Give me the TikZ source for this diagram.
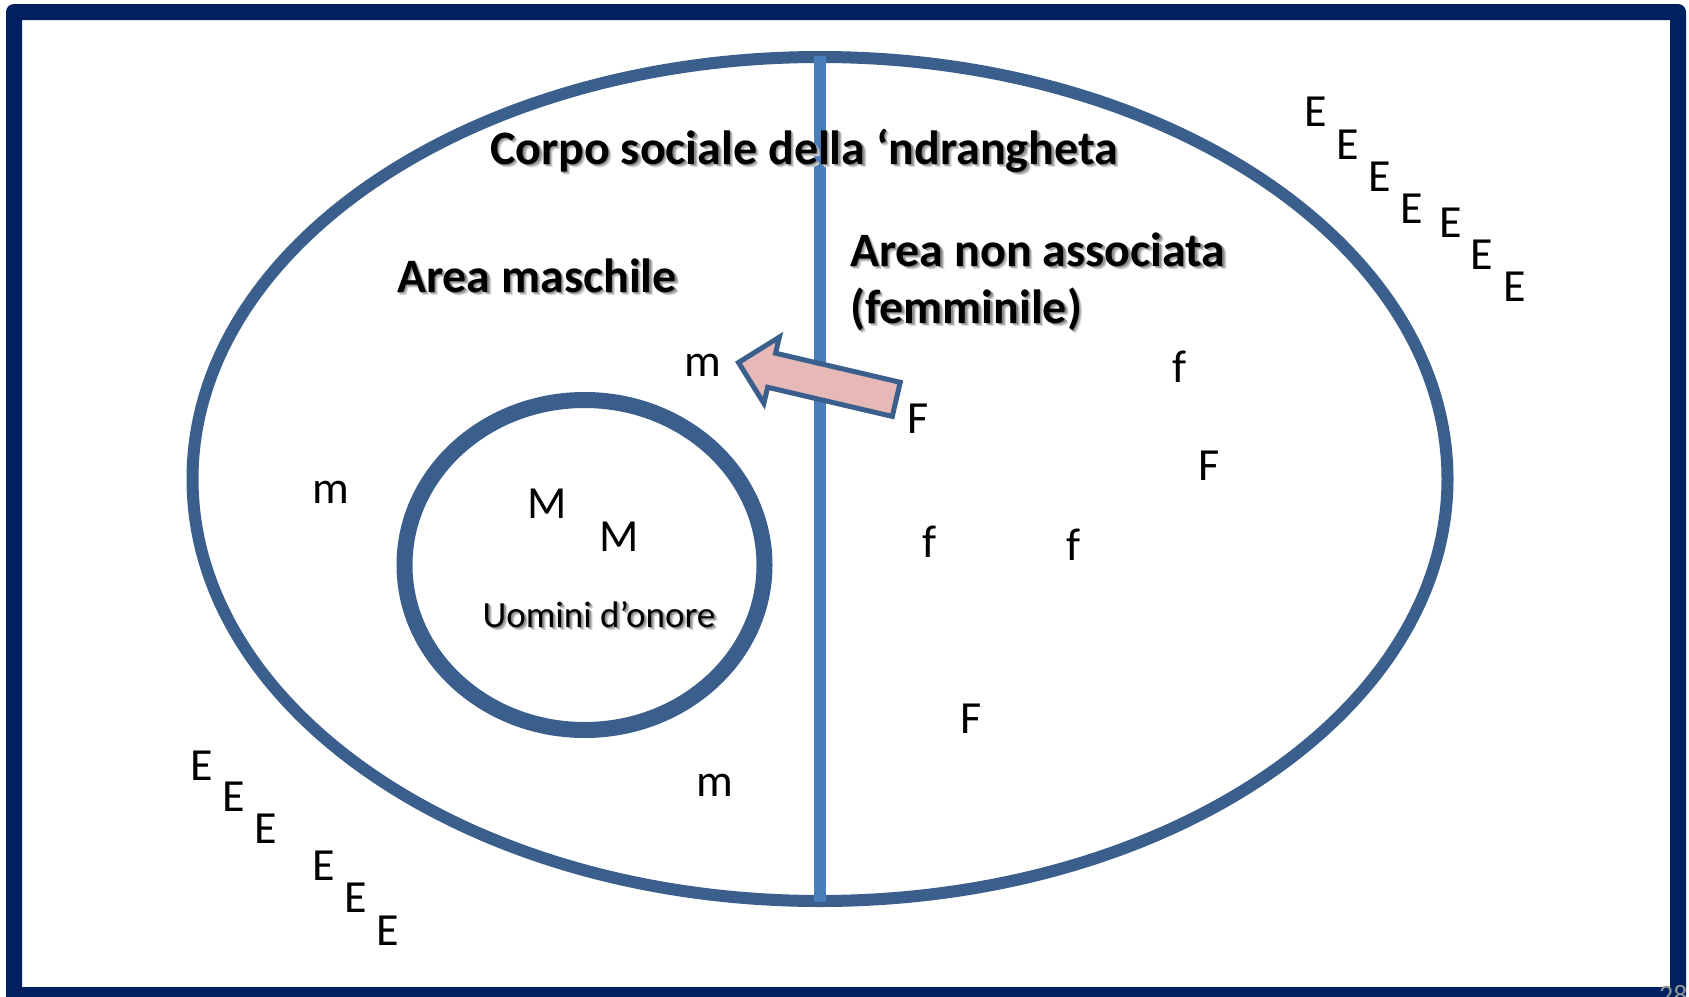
\documentclass[tikz,border=0pt]{standalone}
\usepackage{fontspec}
\setmainfont{Carlito}
\definecolor{framenavy}{HTML}{002060}
\definecolor{ringblue}{HTML}{3A5F8C}
\definecolor{axisblue}{HTML}{4A7EBB}
\definecolor{arrowpink}{HTML}{E6B9B8}
\newcommand\myshadow[1]{\makebox[0pt][l]{\hspace{3.5pt}\raisebox{-3.5pt}{\textcolor{black!15}{#1}}}\makebox[0pt][l]{\hspace{2.5pt}\raisebox{-2.5pt}{\textcolor{black!30}{#1}}}\makebox[0pt][l]{\hspace{1.5pt}\raisebox{-1.5pt}{\textcolor{black!45}{#1}}}#1}
\begin{document}
\begin{tikzpicture}[x=1pt,y=-1pt,
  letter/.style={inner sep=0pt, anchor=base, font=\fontsize{46}{55}\selectfont},
  heading/.style={inner sep=0pt, font=\bfseries\fontsize{48}{57}\selectfont},
  ring/.style={draw=ringblue},
  arrowshape/.style={draw=ringblue, fill=arrowpink, line width=5pt, line join=miter}
]
\useasboundingbox (0,0) rectangle (1689,996);
\clip (0,0) rectangle (1689,996);
\fill[white] (0,0) rectangle (1689,996);
% frame
\fill[framenavy, even odd rule] [rounded corners=8pt] (6,4) rectangle (1686,1004) [sharp corners] (22,20) rectangle (1670,987);
% outer ellipse
\draw[ring, line width=12pt] (820,479) ellipse [x radius=627.5pt, y radius=422pt];
% vertical divider
\coordinate (axtop) at (819.5,56);
\coordinate (axbot) at (819.5,902);
\draw[axisblue, line width=12pt] (axtop) -- (axbot);
% inner circle
\draw[ring, line width=16pt] (584.5,565) ellipse [x radius=180pt, y radius=165pt];
% arrow
\begin{scope}[shift={(738.5,362.5)}, rotate=-13.15]
\draw[arrowshape] (0,0) -- (34,-34) -- (34,-17.5) -- (162,-17.5) -- (162,17.5) -- (34,17.5) -- (34,34) -- cycle;
\end{scope}
% headings
\node[heading, anchor=base] (title) at (804,164) {\myshadow{Corpo sociale della ‘ndrangheta}};
\node[heading, anchor=base] (maschile) at (537,292) {\myshadow{Area maschile}};
\node[heading, anchor=base west] (nonass1) at (850,266) {\myshadow{Area non associata}};
\node[heading, anchor=base west] (nonass2) at (850,323) {\myshadow{(femminile)}};
\node[inner sep=0pt, anchor=base, font=\fontsize{37}{43}\selectfont] (uomini) at (599,627) {\myshadow{Uomini d’onore}};
% letters
\node[letter] (M1) at (547.5,518) {M};
\node[letter] (M2) at (619,551) {M};
\node[letter] (m1) at (703,376) {m};
\node[letter] (m2) at (331,503) {m};
\node[letter] (m3) at (715,796) {m};
\node[letter] (F1) at (918,433) {F};
\node[letter] (F2) at (1209,480) {F};
\node[letter] (F3) at (971,733.5) {F};
\node[letter] (f1) at (1180,382) {f};
\node[letter] (f2) at (930,557) {f};
\node[letter] (f3) at (1074,560) {f};
% E's top right
\foreach \x/\y [count=\i] in {1315.5/126.7, 1348/159.3, 1379.7/191, 1412/223, 1450.3/237.3, 1482/269, 1514.5/301.7}
  \node[letter] (Etr\i) at (\x,\y) {E};
% E's bottom left
\foreach \x/\y [count=\i] in {202/780, 234/811.7, 266/843, 323.7/880.7, 355.3/912.7, 387.5/945}
  \node[letter] (Ebl\i) at (\x,\y) {E};
% slide number (cut off)
\node[anchor=north west, inner sep=0pt, text=gray!85, font=\fontsize{28}{30}\selectfont] (pagenum) at (1659,985) {28};
\end{tikzpicture}
\end{document}
